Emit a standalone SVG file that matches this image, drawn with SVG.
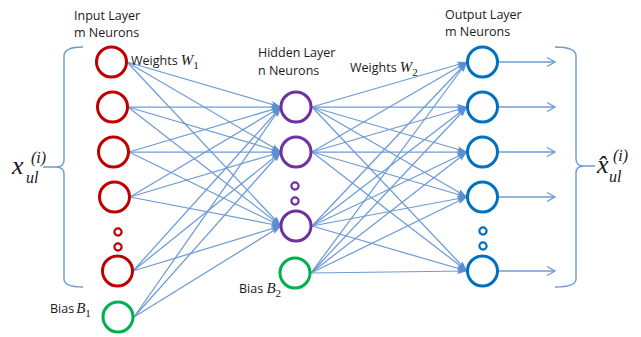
<svg xmlns="http://www.w3.org/2000/svg" width="641" height="337" viewBox="0 0 641 337">
<defs>
<style>
.lbl{font-family:"Open Sans","Liberation Sans",sans-serif;font-size:12.5px;fill:#1a1a1a}
.math{font-family:"Liberation Serif","DejaVu Serif",serif;font-style:italic;fill:#1a1a1a}
.sub{font-family:"Liberation Serif","DejaVu Serif",serif;font-style:normal;font-size:11px;fill:#1a1a1a}
.in{fill:#fff;stroke:#c00000;stroke-width:3}
.hid{fill:#fff;stroke:#7030a0;stroke-width:3}
.bias{fill:#fff;stroke:#00b050;stroke-width:3}
.out{fill:#fff;stroke:#0070c0;stroke-width:3}
.dotr{fill:none;stroke:#c00000;stroke-width:2.2}
.dotp{fill:none;stroke:#7030a0;stroke-width:2.2}
.dotb{fill:none;stroke:#0070c0;stroke-width:2.2}
.c{stroke:#6d9bd6;stroke-width:1.25;fill:none;marker-end:url(#ah)}
.o{stroke:#6d9bd6;stroke-width:1.3;fill:none;marker-end:url(#oh)}
.br{stroke:#6d9bd6;stroke-width:1.4;fill:none}
</style>
<marker id="ah" markerUnits="userSpaceOnUse" markerWidth="10" markerHeight="8" refX="10" refY="4" orient="auto">
<path d="M0,0.8 L10,4 L0,7.2 L2,4 z" fill="#5b8fd1"/>
</marker>
<marker id="oh" markerUnits="userSpaceOnUse" markerWidth="10" markerHeight="12" refX="9" refY="6" orient="auto">
<path d="M1,1.5 L9,6 L1,10.5" fill="none" stroke="#6d9bd6" stroke-width="1.3"/>
</marker>
</defs>
<g id="connectors">
<path class="c" d="M127,62 L281,107"/><path class="c" d="M127,62 L281,152"/><path class="c" d="M127,62 L281,226"/>
<path class="c" d="M128,107 L281,107"/><path class="c" d="M128,107 L281,152"/><path class="c" d="M128,107 L281,226"/>
<path class="c" d="M129,152 L281,107"/><path class="c" d="M129,152 L281,152"/><path class="c" d="M129,152 L281,226"/>
<path class="c" d="M130,197 L281,107"/><path class="c" d="M130,197 L281,152"/><path class="c" d="M130,197 L281,226"/>
<path class="c" d="M133,271 L281,107"/><path class="c" d="M133,271 L281,152"/><path class="c" d="M133,271 L281,226"/>
<path class="c" d="M134,317 L281,107"/><path class="c" d="M134,317 L281,152"/><path class="c" d="M134,317 L281,226"/>
<path class="c" d="M312,107 L467,62"/><path class="c" d="M312,107 L467,107"/><path class="c" d="M312,107 L467,152"/><path class="c" d="M312,107 L467,197"/><path class="c" d="M312,107 L467,271"/>
<path class="c" d="M312,152 L467,62"/><path class="c" d="M312,152 L467,107"/><path class="c" d="M312,152 L467,152"/><path class="c" d="M312,152 L467,197"/><path class="c" d="M312,152 L467,271"/>
<path class="c" d="M312,226 L467,62"/><path class="c" d="M312,226 L467,107"/><path class="c" d="M312,226 L467,152"/><path class="c" d="M312,226 L467,197"/><path class="c" d="M312,226 L467,271"/>
<path class="c" d="M311,273 L467,62"/><path class="c" d="M311,273 L467,107"/><path class="c" d="M311,273 L467,152"/><path class="c" d="M311,273 L467,197"/><path class="c" d="M311,273 L467,271"/>
<path class="o" d="M498,62 L555,62"/><path class="o" d="M498,107 L555,107"/><path class="o" d="M498,152 L555,152"/><path class="o" d="M498,197 L555,197"/><path class="o" d="M498,271 L555,271"/>
</g>
<g id="braces">
<path class="br" d="M83,47 Q64,47 64,56 L64,160 Q64,167 56,167 L43,167 M56,167 Q64,167 64,174 L64,279 Q64,287 83,287"/>
<path class="br" d="M555,47 Q576,47 576,56 L576,159 Q576,166 584,166 L595,166 M584,166 Q576,166 576,173 L576,279 Q576,287 555,287"/>
</g>
<g id="input-layer">
<circle id="in1" class="in" cx="111.5" cy="62" r="15"/>
<circle id="in2" class="in" cx="112.5" cy="107" r="15"/>
<circle id="in3" class="in" cx="113.5" cy="152" r="15"/>
<circle id="in4" class="in" cx="114.5" cy="197" r="15"/>
<circle class="dotr" cx="118" cy="232" r="3.6"/>
<circle class="dotr" cx="118" cy="247" r="3.6"/>
<circle id="in5" class="in" cx="117.5" cy="271" r="15"/>
</g>
<g id="bias1"><circle class="bias" cx="118" cy="317" r="15"/></g>
<g id="hidden-layer">
<circle id="h1" class="hid" cx="296" cy="107" r="15"/>
<circle id="h2" class="hid" cx="296" cy="152" r="15"/>
<circle class="dotp" cx="295" cy="186" r="3.6"/>
<circle class="dotp" cx="295" cy="201" r="3.6"/>
<circle id="h3" class="hid" cx="296" cy="226" r="15"/>
</g>
<g id="bias2"><circle class="bias" cx="295" cy="273" r="15"/></g>
<g id="output-layer">
<circle id="o1" class="out" cx="482.5" cy="62" r="15"/>
<circle id="o2" class="out" cx="482.5" cy="107" r="15"/>
<circle id="o3" class="out" cx="482.5" cy="152" r="15"/>
<circle id="o4" class="out" cx="482.5" cy="197" r="15"/>
<circle class="dotb" cx="483" cy="231" r="3.6"/>
<circle class="dotb" cx="483" cy="246" r="3.6"/>
<circle id="o5" class="out" cx="482.5" cy="271" r="15"/>
</g>
<g id="labels">
<text class="lbl" x="74" y="20">Input Layer</text>
<text class="lbl" x="74" y="37">m Neurons</text>
<text class="lbl" x="131" y="65">Weights <tspan class="math" font-size="15">W</tspan><tspan class="sub" dy="4">1</tspan></text>
<text class="lbl" x="258" y="57">Hidden Layer</text>
<text class="lbl" x="258" y="75">n Neurons</text>
<text class="lbl" x="350" y="72">Weights <tspan class="math" font-size="15">W</tspan><tspan class="sub" dy="4">2</tspan></text>
<text class="lbl" x="445" y="19">Output Layer</text>
<text class="lbl" x="445" y="36">m Neurons</text>
<text class="lbl" x="50" y="313">Bias<tspan class="math" font-size="15" dx="2">B</tspan><tspan class="sub" dy="4">1</tspan></text>
<text class="lbl" x="239" y="293">Bias <tspan class="math" font-size="15">B</tspan><tspan class="sub" dy="4">2</tspan></text>
<text class="math" x="12" y="174" font-size="26">x</text>
<text class="math" x="31" y="163" font-size="16">(i)</text>
<text class="math" x="26" y="183" font-size="16">ul</text>
<text class="math" x="597" y="173" font-size="26">x̂</text>
<text class="math" x="613" y="161" font-size="16">(i)</text>
<text class="math" x="609" y="182" font-size="16">ul</text>
</g>
</svg>
